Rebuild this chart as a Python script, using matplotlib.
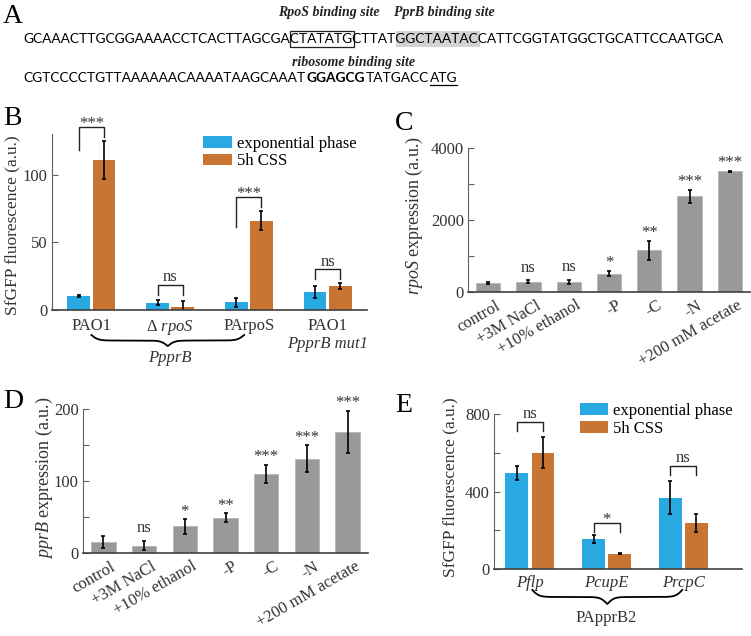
import numpy as np
import matplotlib
matplotlib.use('Agg')
import matplotlib.pyplot as plt
from matplotlib import transforms
from matplotlib.patches import Rectangle
from matplotlib.ticker import MultipleLocator

plt.rcParams['font.family'] = 'Liberation Serif'
plt.rcParams['mathtext.fontset'] = 'custom'
plt.rcParams['mathtext.rm'] = 'Liberation Serif'
plt.rcParams['mathtext.it'] = 'Liberation Serif:italic'

# ---- data ----
seq1 = [('GCAAACTTGCGGAAAACCTCACTTAGCGA', 'plain'), ('CTATATG', 'box'), ('CTTAT', 'plain'),
        ('GGCTAATAC', 'shade'), ('CATTCGGTATGGCTGCATTCCAATGCA', 'plain')]
seq2 = [('CGTCCCCTGTTAAAAAACAAAATAAGCAAAT', 'plain'), ('GGAGCG', 'bold'),
        ('TATGACC', 'plain'), ('ATG', 'underline')]

b_labels = ['PAO1', 'Δ $\\mathit{rpoS}$', 'PArpoS', 'PAO1']
b_exp = [10.5, 5.4, 5.8, 13.3]
b_exp_err = [0.6, 2.0, 3.3, 4.7]
b_css = [110.5, 2.5, 65.8, 17.7]
b_css_err = [14.0, 4.5, 7.0, 2.5]
b_sig = ['***', 'ns', '***', 'ns']
b_br_top = [135.5, 18.5, 83.7, 30.0]
b_br_left = [118.0, 11.0, 61.6, 22.7]
b_br_right = [128.0, 11.0, 76.4, 22.7]

cond_labels = ['control', '+3M NaCl', '+10% ethanol', '-P', '-C', '-N', '+200 mM acetate']
c_vals = [250, 280, 280, 510, 1155, 2655, 3350]
c_err = [20, 40, 60, 75, 270, 185, 15]
c_sig = ['', 'ns', 'ns', '*', '**', '***', '***']

d_vals = [15, 10, 37, 49, 110, 131, 168]
d_err = [8.5, 6.5, 10, 6, 12.5, 18.5, 29.5]
d_sig = ['', 'ns', '*', '**', '***', '***', '***']

e_labels = ['Pflp', 'PcupE', 'PrcpC']
e_exp = [495, 155, 369]
e_exp_err = [37, 22, 85]
e_css = [600, 78, 238]
e_css_err = [80, 3, 48]
e_sig = ['ns', '*', 'ns']
e_br_top = [759, 238, 531]
e_br_left = [712, 190, 483]
e_br_right = [712, 190, 483]

BLUE = '#29a9e1'
ORANGE = '#c87533'
GRAY = '#999999'
TXT = '#333333'

W, H = 751, 636
fig = plt.figure(figsize=(W / 100, H / 100), dpi=100)
renderer = fig.canvas.get_renderer()


def px_axes(l, t, r, b):
    return fig.add_axes([l / W, 1 - b / H, (r - l) / W, (b - t) / H])


def text_width(s, **kw):
    t = fig.text(0, 0, s, **kw)
    w = t.get_window_extent(renderer).width
    t.remove()
    return w


def style_axes(ax, ymax, major, minor):
    for s in ['top', 'right']:
        ax.spines[s].set_visible(False)
    ax.spines['bottom'].set_color('#404040')
    ax.spines['bottom'].set_linewidth(1.2)
    ax.spines['left'].set_color('#606060')
    ax.spines['left'].set_linewidth(0.8)
    ax.set_ylim(0, ymax)
    ax.yaxis.set_major_locator(MultipleLocator(major))
    ax.yaxis.set_minor_locator(MultipleLocator(minor))
    ax.tick_params(axis='y', which='both', direction='in', length=4, width=0.8,
                   color='#606060', labelcolor=TXT, labelsize=12, pad=3)
    ax.tick_params(axis='x', length=0, labelcolor=TXT, labelsize=12, pad=6)


def brace(ax, x0, x1, y0, y1, beta=45.0):
    tr = transforms.blended_transform_factory(ax.transData, ax.transAxes)
    half = np.linspace(0, 0.5, 200)
    yh = 1 / (1 + np.exp(-beta * (half - half[0]))) + 1 / (1 + np.exp(-beta * (half - half[-1])))
    y = np.concatenate((yh, yh[-2::-1]))
    frac = (y - y[0]) / (y.max() - y[0])
    xs = np.linspace(x0, x1, len(y))
    ax.plot(xs, y0 + frac * (y1 - y0), transform=tr, color='k', lw=1.3, clip_on=False)


def brackets(ax, xl, xr, top, lb, rb, sig):
    for i in range(len(xl)):
        ax.plot([xl[i], xl[i], xr[i], xr[i]], [lb[i], top[i], top[i], rb[i]],
                color='#222222', lw=1.0, clip_on=False)
        off = -1.0 if '*' in sig[i] else 2.7
        ax.annotate(sig[i], ((xl[i] + xr[i]) / 2, top[i]), xytext=(0, off),
                    textcoords='offset points', ha='center', va='baseline',
                    fontsize=12, color=TXT, annotation_clip=False)


# ---- panel A ----
fig.text(3 / W, 1 - 23 / H, 'A', fontsize=20, va='baseline')
SEQF = 'Lato'
line1 = ''.join(s for s, _ in seq1)
x0 = 23
fs = 10 * 702 / text_width(line1, fontsize=10, family=SEQF)
fig.text(x0 / W, 1 - 43 / H, line1, fontsize=fs, family=SEQF, va='baseline', zorder=3)
prefix = ''
for s, kind in seq1:
    a = x0 + (text_width(prefix, fontsize=fs, family=SEQF) if prefix else 0)
    b = x0 + text_width(prefix + s, fontsize=fs, family=SEQF)
    if kind == 'box':
        fig.add_artist(Rectangle(((a + 0.5) / W, 1 - 47 / H), (b - a + 1.5) / W, 16 / H,
                                 transform=fig.transFigure, fill=False, ec='#222222', lw=0.9))
        fig.text((a + b) / 2 / W + 8 / W, 1 - 16 / H, 'RpoS binding site', ha='center', va='baseline',
                 fontsize=10, style='italic', weight='bold', color='#222222')
    if kind == 'shade':
        fig.add_artist(Rectangle(((a + 0.5) / W, 1 - 47 / H), (b - a + 1.5) / W, 16 / H,
                                 transform=fig.transFigure, fc='#d3d3d3', ec='none', zorder=1))
        fig.text((a + b) / 2 / W + 8 / W, 1 - 16 / H, 'PprB binding site', ha='center', va='baseline',
                 fontsize=10, style='italic', weight='bold', color='#222222')
    prefix += s

x = x0
for s, kind in seq2:
    t = fig.text(x / W, 1 - 82 / H, s, fontsize=fs, family=SEQF, va='baseline',
                 weight='bold' if kind == 'bold' else 'normal')
    bb = t.get_window_extent(renderer)
    if kind == 'bold':
        fig.text((bb.x0 + 47) / W, 1 - 66 / H, 'ribosome binding site', ha='center', va='baseline',
                 fontsize=10, style='italic', weight='bold', color='#222222')
    if kind == 'underline':
        fig.add_artist(plt.Line2D([bb.x0 / W, bb.x1 / W], [1 - 85 / H, 1 - 85 / H],
                                  transform=fig.transFigure, color='k', lw=0.9))
    x = bb.x1 + 1

# ---- panel B ----
ax = px_axes(52, 134, 367, 310)
xb = np.arange(1, len(b_exp) + 1)
ekw = dict(lw=1.2, capthick=1.2)
ax.bar(xb - 0.16, b_exp, 0.29, yerr=b_exp_err, color=BLUE, ecolor='k', capsize=1.5,
       error_kw=ekw, label='exponential phase')
ax.bar(xb + 0.16, b_css, 0.29, yerr=b_css_err, color=ORANGE, ecolor='k', capsize=1.5,
       error_kw=ekw, label='5h CSS')
style_axes(ax, 130, 50, 50)
ax.set_xlim(0.5, 4.5)
ax.set_xticks(xb, b_labels)
brackets(ax, xb - 0.16, xb + 0.16, b_br_top, b_br_left, b_br_right, b_sig)
ax.legend(loc='upper left', bbox_to_anchor=(0.48, 0.99), frameon=False, fontsize=12,
          handlelength=1.7, handleheight=0.7, labelspacing=0.1, handletextpad=0.3,
          borderpad=0, borderaxespad=0)
ax.set_ylabel('SfGFP fluorescence (a.u.)', fontsize=12.5, color=TXT)
ax.yaxis.set_label_coords(-0.10, 0.48)
brace(ax, 1.0, 2.94, -0.142, -0.205)
tr = transforms.blended_transform_factory(ax.transData, ax.transAxes)
ax.text(2.0, -0.225, 'PpprB', transform=tr, ha='center', va='top', style='italic', fontsize=12, color=TXT)
ax.text(4.0, -0.145, 'PpprB mut1', transform=tr, ha='center', va='top', style='italic', fontsize=12, color=TXT)
fig.text(3 / W, 1 - 125 / H, 'B', fontsize=20, va='baseline')


def cond_panel(ax, vals, err, sig, ymax, major, minor, ylabel, lx, ly):
    xc = np.arange(1, len(vals) + 1)
    ax.bar(xc, vals, 0.6, yerr=err, color=GRAY, ec='#b5b5b5', lw=0.6, ecolor='k',
           capsize=1.5, error_kw=ekw)
    style_axes(ax, ymax, major, minor)
    ax.set_xlim(0.5, 7.5)
    ax.set_xticks(xc, cond_labels, rotation=30, ha='right', va='center', rotation_mode='anchor')
    ax.tick_params(axis='x', pad=9)
    shift = transforms.ScaledTranslation(8 / 72, 0, fig.dpi_scale_trans)
    for lbl in ax.get_xticklabels():
        lbl.set_transform(lbl.get_transform() + shift)
    for i in range(len(vals)):
        if sig[i]:
            off = 2.5 if '*' in sig[i] else 6.3
            ax.annotate(sig[i], (xc[i], vals[i] + err[i]), xytext=(0, off),
                        textcoords='offset points', ha='center', va='baseline',
                        fontsize=12, color=TXT, annotation_clip=False)
    ax.set_ylabel(ylabel, fontsize=13, color=TXT)
    ax.yaxis.set_label_coords(lx, ly)


# ---- panel C ----
ax = px_axes(468, 148, 750, 292)
cond_panel(ax, c_vals, c_err, c_sig, 4000, 2000, 1000, '$\\mathit{rpoS}$ expression (a.u.)', -0.152, 0.53)
fig.text(395 / W, 1 - 130 / H, 'C', fontsize=20, va='baseline')

# ---- panel D ----
ax = px_axes(83, 409, 368, 553)
cond_panel(ax, d_vals, d_err, d_sig, 200, 100, 50, '$\\mathit{pprB}$ expression (a.u.)', -0.098, 0.52)
fig.text(3 / W, 1 - 408 / H, 'D', fontsize=20, va='baseline')

# ---- panel E ----
ax = px_axes(494, 414, 742, 569)
xe = np.arange(1, len(e_exp) + 1)
ax.bar(xe - 0.17, e_exp, 0.30, yerr=e_exp_err, color=BLUE, ecolor='k', capsize=1.5,
       error_kw=ekw, label='exponential phase')
ax.bar(xe + 0.17, e_css, 0.30, yerr=e_css_err, color=ORANGE, ecolor='k', capsize=1.5,
       error_kw=ekw, label='5h CSS')
style_axes(ax, 800, 400, 200)
ax.set_xlim(0.53, 3.77)
ax.set_xticks(xe, e_labels, style='italic')
ax.tick_params(axis='x', pad=4)
brackets(ax, xe - 0.17, xe + 0.17, e_br_top, e_br_left, e_br_right, e_sig)
ax.legend(loc='upper left', bbox_to_anchor=(0.345, 1.07), frameon=False, fontsize=12,
          handlelength=1.7, handleheight=0.7, labelspacing=0.1, handletextpad=0.3,
          borderpad=0, borderaxespad=0)
ax.set_ylabel('SfGFP fluorescence (a.u.)', fontsize=12.5, color=TXT)
ax.yaxis.set_label_coords(-0.145, 0.53)
brace(ax, 1.03, 2.99, -0.135, -0.226)
tr = transforms.blended_transform_factory(ax.transData, ax.transAxes)
ax.text(2.0, -0.316, 'PApprB2', transform=tr, ha='center', va='center', fontsize=12, color=TXT)
fig.text(395 / W, 1 - 412 / H, 'E', fontsize=20, va='baseline')

fig.savefig('out.png', dpi=100)
